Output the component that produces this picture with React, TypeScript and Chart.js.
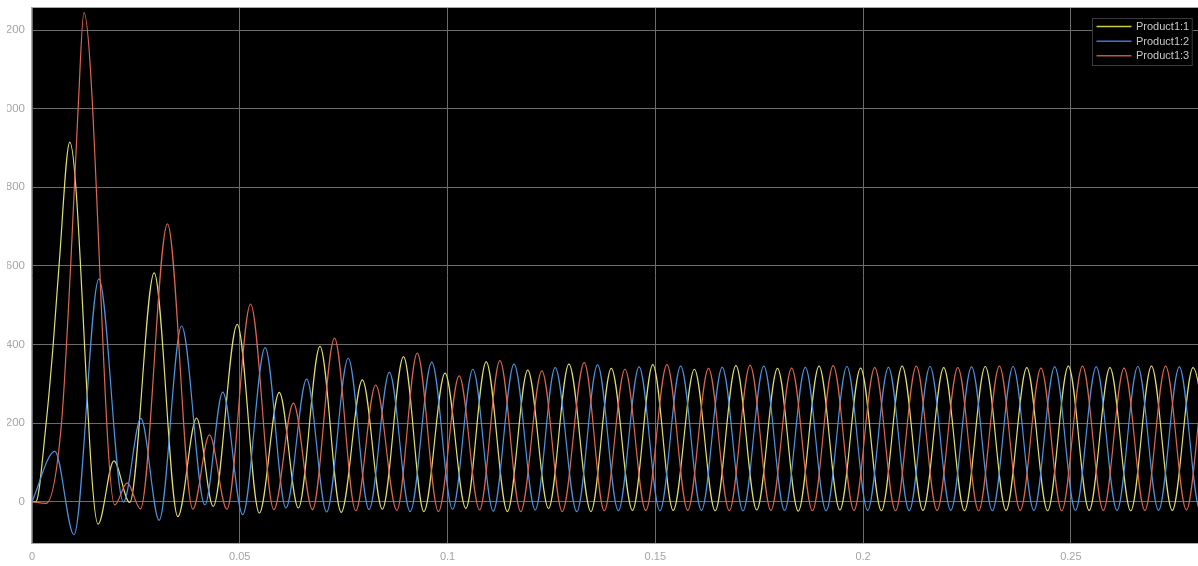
import React, { useEffect, useRef } from 'react';
import { Chart, registerables } from 'chart.js';

Chart.register(...registerables);

const seriesLabels = ['Product1:1', 'Product1:2', 'Product1:3'];
const seriesColors = ['#e0e070', '#4d93e0', '#dd6650'];
const legendColors = ['#cccc40', '#3f74d6', '#c25640'];

// Product1:1 (yellow), time in s
const p11Time = [0, 0.0009, 0.0034, 0.0051, 0.0065, 0.0091, 0.0159, 0.0197, 0.0235, 0.0294, 0.0351, 0.0396, 0.0436, 0.0494, 0.0547, 0.0595, 0.0641, 0.0693, 0.0744, 0.0795, 0.0843, 0.0894, 0.0943, 0.0994, 0.1044, 0.1093, 0.1144, 0.1193, 0.1243, 0.1292, 0.1345, 0.1394, 0.1445, 0.1494, 0.1543, 0.1594, 0.1644, 0.1694, 0.1744, 0.1794, 0.1844, 0.1894, 0.1944, 0.1994, 0.2044, 0.2094, 0.2144, 0.2194, 0.2244, 0.2294, 0.2344, 0.2394, 0.2444, 0.2494, 0.2544, 0.2594, 0.2644, 0.2694, 0.2744, 0.2794, 0.2844];
const p11Value = [0, 0, 200, 400, 600, 915, -57, 104, -2, 582, -38, 213, -12, 451, -29, 278, -16, 395, -27, 310, -19, 369, -25, 327, -17, 356, -25, 335, -17, 350, -25, 339, -22, 349, -22, 337, -23, 346, -21, 339, -24, 345, -21, 340, -23, 345, -22, 341, -23, 344, -22, 341, -23, 345, -22, 341, -23, 345, -22, 341, -22];

// Product1:2 (blue)
const p12Time = [0, 0.0055, 0.0101, 0.0161, 0.0220, 0.0262, 0.0306, 0.0360, 0.0416, 0.0459, 0.0507, 0.0561, 0.0611, 0.0661, 0.0709, 0.0761, 0.0811, 0.0860, 0.0910, 0.0962, 0.1012, 0.1061, 0.1110, 0.1160, 0.1211, 0.1259, 0.1311, 0.1361, 0.1411, 0.1461, 0.1511, 0.1561, 0.1611, 0.1661, 0.1711, 0.1761, 0.1811, 0.1861, 0.1911, 0.1961, 0.2011, 0.2061, 0.2111, 0.2161, 0.2211, 0.2261, 0.2311, 0.2361, 0.2411, 0.2461, 0.2511, 0.2561, 0.2611, 0.2661, 0.2711, 0.2761, 0.2811, 0.2861];
const p12Value = [0, 128, -84, 567, -1, 212, -47, 447, -8, 279, -33, 392, -16, 312, -26, 365, -20, 329, -25, 355, -19, 337, -24, 350, -21, 341, -25, 348, -23, 343, -23, 345, -22, 342, -23, 345, -22, 342, -23, 344, -22, 342, -23, 344, -22, 343, -23, 344, -22, 343, -22, 343, -22, 344, -22, 343, -22, 343];

// Product1:3 (red)
const p13Time = [0, 0.0034, 0.0071, 0.0093, 0.0111, 0.0125, 0.0199, 0.0229, 0.0261, 0.0326, 0.0387, 0.0427, 0.0469, 0.0526, 0.0582, 0.0629, 0.0675, 0.0728, 0.0779, 0.0827, 0.0878, 0.0927, 0.0978, 0.1028, 0.1077, 0.1126, 0.1176, 0.1227, 0.1276, 0.1329, 0.1377, 0.1427, 0.1477, 0.1528, 0.1578, 0.1628, 0.1678, 0.1728, 0.1778, 0.1828, 0.1878, 0.1928, 0.1978, 0.2028, 0.2078, 0.2128, 0.2178, 0.2228, 0.2278, 0.2328, 0.2378, 0.2428, 0.2478, 0.2528, 0.2578, 0.2628, 0.2678, 0.2728, 0.2778, 0.2828, 0.2878];
const p13Value = [0, -4, 200, 600, 1000, 1244, -8, 48, -18, 707, -19, 170, -19, 503, -20, 251, -20, 416, -23, 297, -22, 378, -25, 320, -21, 359, -25, 333, -25, 354, -23, 337, -22, 349, -22, 339, -23, 347, -22, 340, -23, 346, -22, 341, -23, 345, -22, 341, -23, 345, -22, 340, -23, 345, -22, 340, -22, 345, -21, 341, -22];

const xTickValues = [0, 0.05, 0.1, 0.15, 0.2, 0.25];
const yTickValues = [0, 200, 400, 600, 800, 1000, 1200];
const xRange = [0, 0.283];
const yRange = [-105, 1256];

function toPoints(t: number[], v: number[]) {
  const n = Math.min(t.length, v.length);
  const out: { x: number; y: number }[] = [];
  for (let i = 0; i < n; i++) out.push({ x: t[i], y: v[i] });
  return out;
}

const FONT_FAMILY = "'Liberation Sans', Arial, sans-serif";

const scopePlugin = {
  id: 'scopeStyle',
  beforeDraw(chart: any) {
    const { ctx, chartArea: a } = chart;
    ctx.save();
    ctx.fillStyle = '#000000';
    ctx.fillRect(a.left, a.top, a.right - a.left, a.bottom - a.top);
    ctx.restore();
  },
  afterDraw(chart: any) {
    const { ctx, chartArea: a } = chart;
    ctx.save();
    ctx.strokeStyle = '#a8a8a8';
    ctx.lineWidth = 1;
    ctx.strokeRect(Math.round(a.left) - 0.5, Math.round(a.top) - 0.5, a.right - a.left + 1, a.bottom - a.top + 1);

    ctx.font = `11px ${FONT_FAMILY}`;
    const textW = Math.max(...seriesLabels.map((s) => ctx.measureText(s).width));
    const lineLen = 35, padL = 4, gap = 4.5, padR = 3, rowH = 14.65;
    const boxW = padL + lineLen + gap + textW + padR;
    const boxH = 47;
    const bx = Math.round(a.right - 16 - boxW) + 0.5;
    const by = Math.round(a.top + 10) + 0.5;
    ctx.fillStyle = '#000000';
    ctx.fillRect(bx, by, boxW, boxH);
    ctx.strokeStyle = '#3a3a3a';
    ctx.lineWidth = 1;
    ctx.strokeRect(bx, by, boxW, boxH);
    seriesLabels.forEach((lab, i) => {
      const cy = by + 8 + i * rowH;
      ctx.strokeStyle = legendColors[i];
      ctx.lineWidth = 1.5;
      ctx.beginPath();
      ctx.moveTo(bx + padL, cy);
      ctx.lineTo(bx + padL + lineLen, cy);
      ctx.stroke();
      ctx.fillStyle = '#c8c8c8';
      ctx.textBaseline = 'middle';
      ctx.textAlign = 'left';
      ctx.fillText(lab, bx + padL + lineLen + gap, cy + 0.5);
    });
    ctx.restore();
  },
};

export default function App() {
  const canvasRef = useRef<HTMLCanvasElement | null>(null);

  useEffect(() => {
    const canvas = canvasRef.current;
    if (!canvas) return;
    const chart = new Chart(canvas, {
      type: 'line',
      data: {
        datasets: [
          { label: seriesLabels[0], data: toPoints(p11Time, p11Value), borderColor: seriesColors[0], order: 3 },
          { label: seriesLabels[1], data: toPoints(p12Time, p12Value), borderColor: seriesColors[1], order: 2 },
          { label: seriesLabels[2], data: toPoints(p13Time, p13Value), borderColor: seriesColors[2], order: 1 },
        ],
      },
      options: {
        animation: false,
        responsive: false,
        devicePixelRatio: 1,
        layout: { padding: { top: 8, left: 0, right: 0, bottom: 0 } },
        plugins: { legend: { display: false }, tooltip: { enabled: false } },
        elements: {
          point: { radius: 0 },
          line: { borderWidth: 1.2, cubicInterpolationMode: 'monotone', tension: 0, fill: false },
        },
        scales: {
          x: {
            type: 'linear',
            min: xRange[0],
            max: xRange[1],
            afterBuildTicks: (s: any) => {
              s.ticks = xTickValues.map((v) => ({ value: v }));
            },
            afterFit: (s: any) => {
              s.height = 23;
              s.paddingLeft = 0;
              s.paddingRight = 0;
              s.paddingTop = 0;
              s.paddingBottom = 0;
            },
            grid: { color: '#6c6c6c', lineWidth: 1, drawTicks: false },
            border: { display: false },
            ticks: {
              color: '#a4a4a4',
              font: { family: FONT_FAMILY, size: 11 },
              padding: 7,
              maxRotation: 0,
              autoSkip: false,
              callback: (v: any) => String(v),
            },
          },
          y: {
            type: 'linear',
            min: yRange[0],
            max: yRange[1],
            afterBuildTicks: (s: any) => {
              s.ticks = yTickValues.map((v) => ({ value: v }));
            },
            afterFit: (s: any) => {
              s.width = 25;
              s.paddingTop = 0;
              s.paddingBottom = 0;
              s.paddingLeft = 0;
              s.paddingRight = 0;
            },
            grid: { color: '#6c6c6c', lineWidth: 1, drawTicks: false },
            border: { display: false },
            ticks: {
              color: '#a4a4a4',
              font: { family: FONT_FAMILY, size: 11.5 },
              padding: 7,
              autoSkip: false,
              callback: (v: any) => String(v),
            },
          },
        },
      },
      plugins: [scopePlugin],
    } as any);
    return () => chart.destroy();
  }, []);

  return (
    <div
      style={{
        position: 'fixed',
        left: 0,
        top: 0,
        width: 1198,
        height: 566,
        overflow: 'hidden',
        background: '#ffffff',
      }}
    >
      <div style={{ position: 'absolute', left: 7, top: 0, width: 1201, height: 566, overflow: 'hidden' }}>
        <canvas ref={canvasRef} width={1201} height={566} style={{ width: 1201, height: 566, display: 'block' }} />
      </div>
    </div>
  );
}
